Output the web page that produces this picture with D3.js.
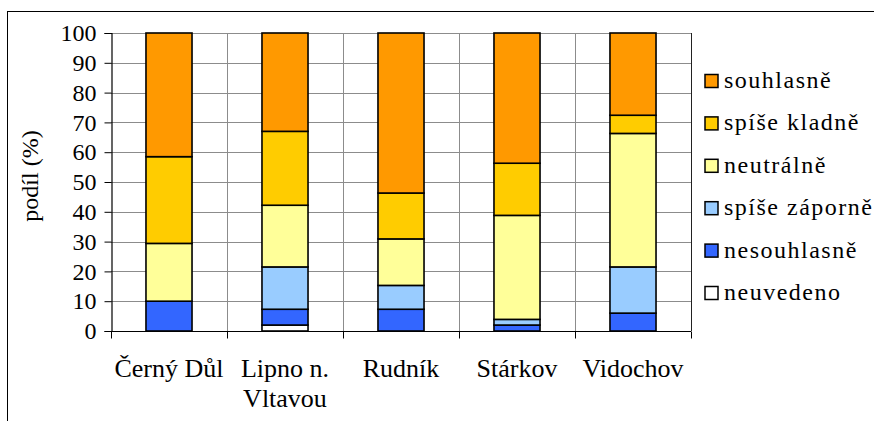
<!DOCTYPE html>
<html>
<head>
<meta charset="utf-8">
<script src="https://cdn.jsdelivr.net/npm/d3@7"></script>
<style>
  body { margin: 0; background: #fff; }
</style>
</head>
<body>
<div class="graph-card"></div>
<script>
// data (percent)
var categories = ["Černý Důl", "Lipno n.|Vltavou", "Rudník", "Stárkov", "Vidochov"];
var seriesNames = ["neuvedeno", "nesouhlasně", "spíše záporně", "neutrálně", "spíše kladně", "souhlasně"];
var seriesColors = ["#ffffff", "#3366ff", "#99ccff", "#ffff99", "#ffcc00", "#ff9900"];
var neuvedeno    = [0,    2,    0,    0,    0];
var nesouhlasne  = [10,   5.3,  7.3,  2,    6];
var spiseZaporne = [0,    14.2, 8,    1.9,  15.5];
var neutralne    = [19.4, 20.7, 15.6, 34.9, 44.8];
var spiseKladne  = [29.1, 24.8, 15.4, 17.5, 6.1];
var souhlasne    = [41.5, 33,   53.7, 43.7, 27.6];
var yTicks = [0, 10, 20, 30, 40, 50, 60, 70, 80, 90, 100];

var seriesValues = [neuvedeno, nesouhlasne, spiseZaporne, neutralne, spiseKladne, souhlasne];
var FONT = "'Liberation Serif', 'Times New Roman', serif";

// one row per category for d3.stack
var table = categories.map(function(c, i) {
    var row = {cat: c};
    seriesNames.forEach(function(s, j) { row[s] = seriesValues[j][i]; });
    return row;
});

var W = 874, H = 421;
var plot = {left: 111, right: 691, top: 33, bottom: 331};

var svg = d3.select(".graph-card").append("svg")
    .attr("width", W)
    .attr("height", H)
    .style("font-family", FONT);

// outer chart frame (runs off the right and bottom edge)
svg.append("rect")
    .attr("x", 7.5).attr("y", 11.5)
    .attr("width", 1000).attr("height", 1000)
    .attr("fill", "none")
    .attr("stroke", "#000");

var x = d3.scaleBand()
    .domain(categories)
    .range([plot.left, plot.right])
    .paddingInner(0.603)
    .paddingOuter(0.3015);

var y = d3.scaleLinear().domain([0, 100]).range([plot.bottom, plot.top]);

// horizontal grid
svg.append("g")
    .selectAll("line")
    .data(yTicks)
    .enter().append("line")
    .attr("x1", plot.left).attr("x2", plot.right)
    .attr("y1", function(d) { return Math.round(y(d)) + 0.5; })
    .attr("y2", function(d) { return Math.round(y(d)) + 0.5; })
    .attr("stroke", "#8c8c8c");

// vertical grid at category boundaries
var step = x.step();
var bounds = d3.range(categories.length + 1).map(function(i) { return plot.left + i * step; });
svg.append("g")
    .selectAll("line")
    .data(bounds.slice(1))
    .enter().append("line")
    .attr("x1", function(d) { return Math.round(d) + 0.5; })
    .attr("x2", function(d) { return Math.round(d) + 0.5; })
    .attr("y1", plot.top).attr("y2", plot.bottom)
    .attr("stroke", function(d, i) { return i === categories.length - 1 ? "#222" : "#8c8c8c"; });

// stacked bars
var stacked = d3.stack().keys(seriesNames)(table);
svg.append("g")
    .selectAll("g")
    .data(stacked)
    .enter().append("g")
    .attr("fill", function(d, i) { return seriesColors[i]; })
    .selectAll("rect")
    .data(function(d) { return d.filter(function(s) { return s[1] - s[0] > 0; }); })
    .enter().append("rect")
    .attr("x", function(d) { return x(d.data.cat); })
    .attr("width", x.bandwidth())
    .attr("y", function(d) { return y(d[1]); })
    .attr("height", function(d) { return y(d[0]) - y(d[1]); })
    .attr("stroke", "#000")
    .attr("stroke-width", 1.6);

// Y axis
var yAxis = svg.append("g")
    .attr("transform", "translate(" + (plot.left + 0.5) + ",0)")
    .call(d3.axisLeft(y).tickValues(yTicks).tickSize(7).tickPadding(8));
yAxis.select(".domain").attr("stroke", "#000").attr("stroke-width", 1.2);
yAxis.selectAll(".tick line").attr("stroke", "#000");
yAxis.selectAll("text")
    .style("font-family", FONT)
    .style("font-size", "24px")
    .attr("fill", "#000");

// X axis
var xAxis = svg.append("g")
    .attr("transform", "translate(0," + (plot.bottom + 0.5) + ")");
xAxis.append("line")
    .attr("x1", plot.left).attr("x2", plot.right)
    .attr("stroke", "#000").attr("stroke-width", 1.2);
xAxis.selectAll(".xt")
    .data(bounds)
    .enter().append("line")
    .attr("x1", function(d) { return Math.round(d) + 0.5; })
    .attr("x2", function(d) { return Math.round(d) + 0.5; })
    .attr("y1", 0).attr("y2", 7)
    .attr("stroke", "#000");

// category labels
svg.append("g")
    .selectAll("text")
    .data(categories)
    .enter().append("text")
    .attr("x", function(d) { return x(d) + x.bandwidth() / 2; })
    .attr("y", 377)
    .attr("text-anchor", "middle")
    .style("font-family", FONT)
    .style("font-size", "26px")
    .each(function(d) {
        var parts = d.split("|");
        var t = d3.select(this);
        parts.forEach(function(p, i) {
            t.append("tspan")
                .attr("x", t.attr("x"))
                .attr("dy", i === 0 ? 0 : 30)
                .text(p);
        });
    });

// Y axis title
svg.append("text")
    .attr("transform", "translate(38,176) rotate(-90)")
    .attr("text-anchor", "middle")
    .style("font-family", FONT)
    .style("font-size", "24px")
    .text("podíl (%)");

// legend, top item is the top of the stack
var legendItems = seriesNames.map(function(s, i) { return {name: s, color: seriesColors[i]}; }).reverse();
var legend = svg.append("g")
    .selectAll("g")
    .data(legendItems)
    .enter().append("g")
    .attr("transform", function(d, i) { return "translate(705," + (81 + i * 42.4) + ")"; });
legend.append("rect")
    .attr("x", 0).attr("y", -6.5)
    .attr("width", 13).attr("height", 13)
    .attr("fill", function(d) { return d.color; })
    .attr("stroke", "#000")
    .attr("stroke-width", 1.5);
legend.append("text")
    .attr("x", 19).attr("y", 7)
    .style("font-family", FONT)
    .style("font-size", "24px")
    .attr("letter-spacing", "1.5px")
    .text(function(d) { return d.name; });
</script>
</body>
</html>
